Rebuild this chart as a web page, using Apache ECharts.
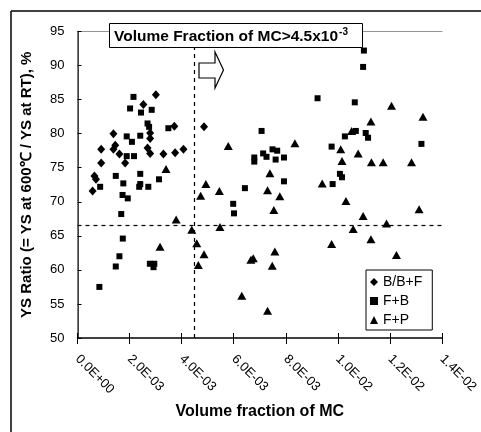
<!DOCTYPE html>
<html>
<head>
<meta charset="utf-8">
<script src="https://cdn.jsdelivr.net/npm/echarts@6/dist/echarts.min.js"></script>
<style>
  html, body { margin: 0; padding: 0; background: #fff; }
  #chart { width: 481px; height: 432px; }
</style>
</head>
<body>
<div id="chart"></div>
<script>
// Tick labels along the volume-fraction axis
const xTickLabels = ['0.0E+00', '2.0E-03', '4.0E-03', '6.0E-03', '8.0E-03', '1.0E-02', '1.2E-02', '1.4E-02'];
const xStep = 0.002;
const xMin = 0, xMax = 0.014;
const yMin = 50, yMax = 95;

// Threshold guides
const mcThreshold = 0.0045;
const ratioThreshold = 66.6;

// B/B+F microstructure: [volume fraction of MC, YS ratio %]
const bainite = [
  [0.00301, 85.7], [0.00253, 84.3], [0.00372, 81.1], [0.00486, 81.0],
  [0.00279, 80.1], [0.00138, 80.0], [0.00279, 79.3], [0.00091, 77.7],
  [0.00145, 78.3], [0.00138, 77.7], [0.00269, 77.9], [0.00279, 77.1],
  [0.00330, 77.0], [0.00375, 77.2], [0.00407, 77.7], [0.00161, 77.0],
  [0.00183, 75.7], [0.00091, 75.7], [0.00065, 73.8], [0.00071, 73.3],
  [0.00058, 71.6]
];

// F+B microstructure
const ferriteBainite = [
  [0.00215, 85.4], [0.00202, 83.7], [0.00244, 83.1], [0.00285, 83.5],
  [0.00269, 81.5], [0.00275, 81.0], [0.00349, 80.8], [0.00189, 79.6],
  [0.00209, 78.8], [0.00241, 79.7], [0.00189, 76.7], [0.00217, 76.7],
  [0.00147, 73.8], [0.00241, 74.1], [0.00313, 73.3], [0.00176, 72.7],
  [0.00241, 72.6], [0.00237, 72.2], [0.00272, 72.2], [0.00087, 72.2],
  [0.00173, 71.0], [0.00193, 70.5], [0.00598, 69.7], [0.00601, 68.3],
  [0.00168, 68.2], [0.00174, 64.6], [0.00161, 62.0], [0.00147, 60.5],
  [0.00278, 60.9], [0.00295, 60.9], [0.00292, 60.4], [0.00084, 57.5],
  [0.01100, 92.2], [0.01097, 89.8], [0.00922, 85.2], [0.01065, 84.6],
  [0.00707, 80.4], [0.01069, 80.4], [0.01027, 79.6], [0.01107, 80.1],
  [0.01116, 79.4], [0.00976, 78.1], [0.01321, 78.5], [0.00713, 77.1],
  [0.00749, 77.7], [0.00767, 77.5], [0.00679, 76.5], [0.00679, 75.9],
  [0.00726, 76.6], [0.00761, 76.2], [0.00793, 76.5], [0.01008, 74.1],
  [0.01016, 73.6], [0.00793, 73.0], [0.00980, 72.6], [0.00643, 72.0]
];

// F+P microstructure
const ferritePearlite = [
  [0.00340, 74.8], [0.00579, 78.2], [0.00493, 72.6], [0.00545, 71.6],
  [0.00473, 70.9], [0.00379, 67.4], [0.00547, 66.3], [0.00439, 65.9],
  [0.00317, 63.4], [0.00458, 63.9], [0.00486, 62.3], [0.00464, 60.7],
  [0.00835, 78.6], [0.01011, 77.7], [0.01078, 77.1], [0.01016, 76.0],
  [0.01129, 75.8], [0.01174, 75.8], [0.01283, 75.8], [0.00739, 74.2],
  [0.00940, 72.7], [0.00730, 71.7], [0.00777, 70.8], [0.01031, 70.1],
  [0.00754, 68.8], [0.01097, 67.9], [0.01312, 68.9], [0.01187, 66.8],
  [0.01059, 66.0], [0.01127, 64.5], [0.00976, 63.8], [0.01206, 84.1],
  [0.01327, 82.5], [0.01127, 81.8], [0.01053, 80.4], [0.01225, 62.2],
  [0.00758, 62.7], [0.00666, 61.5], [0.00675, 61.7], [0.00748, 60.6],
  [0.00631, 56.2], [0.00730, 54.0]
];

const FONT = '"Liberation Sans", Arial, sans-serif';

const chart = echarts.init(document.getElementById('chart'), null, { renderer: 'canvas' });

const hiddenAxisParts = {
  axisLabel: { show: false },
  axisTick: { show: false },
  splitLine: { show: false }
};

chart.setOption({
  animation: false,
  backgroundColor: '#fff',
  textStyle: { fontFamily: FONT, color: '#000' },
  grid: { left: 77.5, right: 39, top: 31.5, bottom: 94 },
  legend: {
    orient: 'vertical',
    left: 366,
    top: 270,
    backgroundColor: '#fff',
    borderColor: '#000',
    borderWidth: 1,
    padding: [5, 10, 3, 4],
    itemGap: 5,
    itemWidth: 8,
    itemHeight: 8,
    textStyle: { fontFamily: FONT, fontSize: 14, color: '#000' },
    data: [
      { name: 'B/B+F', icon: 'diamond' },
      { name: 'F+B', icon: 'rect' },
      { name: 'F+P', icon: 'triangle' }
    ]
  },
  xAxis: [
    {
      type: 'value',
      min: xMin,
      max: xMax,
      interval: xStep,
      name: 'Volume fraction of MC',
      nameLocation: 'middle',
      nameGap: 66,
      nameTextStyle: { fontFamily: FONT, fontSize: 16, fontWeight: 'bold', color: '#000' },
      axisLine: { lineStyle: { color: '#000', width: 1.5 } },
      axisTick: { show: true, inside: false, length: 6, lineStyle: { color: '#000', width: 1 } },
      axisLabel: {
        rotate: -45,
        margin: 19,
        fontFamily: FONT,
        fontSize: 13,
        color: '#000',
        showMaxLabel: true,
        formatter: (v) => xTickLabels[Math.round(v / xStep)]
      },
      splitLine: { show: false }
    },
    {
      // inward half of the crossing ticks
      type: 'value', min: xMin, max: xMax, interval: xStep, position: 'bottom',
      axisLine: { show: false },
      axisTick: { show: true, inside: true, length: 5, lineStyle: { color: '#000', width: 1 } },
      axisLabel: { show: false },
      splitLine: { show: false }
    },
    {
      // dotted top border of the plot area
      type: 'value', min: xMin, max: xMax, position: 'top',
      axisLine: { lineStyle: { color: '#888', type: [1, 1], width: 1 } },
      ...hiddenAxisParts
    }
  ],
  yAxis: [
    {
      type: 'value',
      min: yMin,
      max: yMax,
      interval: 5,
      name: 'YS Ratio (= YS at 600℃ / YS at RT), %',
      nameLocation: 'middle',
      nameRotate: 90,
      nameGap: 43,
      nameTextStyle: { fontFamily: FONT, fontSize: 15, fontWeight: 'bold', color: '#000' },
      axisLine: { show: true, lineStyle: { color: '#000', width: 1.5 } },
      axisTick: { show: true, inside: true, length: 4, lineStyle: { color: '#000' } },
      axisLabel: { margin: 13, fontFamily: FONT, fontSize: 13, color: '#000' },
      splitLine: { show: false }
    },
    {
      // dotted right border of the plot area
      type: 'value', min: yMin, max: yMax, position: 'right',
      axisLine: { show: true, lineStyle: { color: '#888', type: [1, 1], width: 1 } },
      ...hiddenAxisParts
    }
  ],
  series: [
    {
      name: 'B/B+F',
      type: 'scatter',
      symbol: 'diamond',
      symbolSize: [8, 9],
      itemStyle: { color: '#000', opacity: 1 },
      data: bainite,
      z: 3,
      markLine: {
        silent: true,
        symbol: 'none',
        label: { show: false },
        lineStyle: { color: '#000', type: [4, 4], width: 1.2 },
        data: [
          [{ coord: [mcThreshold, yMin] }, { coord: [mcThreshold, yMax] }],
          [{ coord: [xMin, ratioThreshold] }, { coord: [xMax, ratioThreshold] }]
        ],
        z: 2
      }
    },
    {
      name: 'F+B',
      type: 'scatter',
      symbol: 'rect',
      symbolSize: 6,
      itemStyle: { color: '#000', opacity: 1 },
      data: ferriteBainite,
      z: 3
    },
    {
      name: 'F+P',
      type: 'scatter',
      symbol: 'triangle',
      symbolSize: [9, 8],
      itemStyle: { color: '#000', opacity: 1 },
      data: ferritePearlite,
      z: 3
    }
  ],
  graphic: [
    // outer frame edges
    { type: 'line', shape: { x1: 11, y1: 11, x2: 481, y2: 11 }, style: { stroke: '#000', lineWidth: 1.5 }, z: 10 },
    { type: 'line', shape: { x1: 11, y1: 11, x2: 11, y2: 432 }, style: { stroke: '#000', lineWidth: 1.5 }, z: 10 },
    // threshold note
    {
      type: 'rect',
      shape: { x: 109.5, y: 23.5, width: 253, height: 24 },
      style: { fill: '#fff', stroke: '#000', lineWidth: 1 },
      z: 20
    },
    {
      type: 'text',
      left: 114,
      top: 27,
      z: 21,
      style: {
        text: '{m|Volume Fraction of MC>4.5x10}{s|-3}',
        rich: {
          m: { fontFamily: FONT, fontSize: 15.5, fontWeight: 'bold', fill: '#000', lineHeight: 18, verticalAlign: 'bottom' },
          s: { fontFamily: FONT, fontSize: 10, fontWeight: 'bold', fill: '#000', verticalAlign: 'top', padding: [0, 0, 7, 1] }
        }
      }
    },
    // arrow pointing towards the high-MC side
    {
      type: 'polygon',
      shape: { points: [[199, 63], [215, 63], [215, 52], [223.5, 70], [215, 88], [215, 78], [199, 78]] },
      style: { fill: '#fff', stroke: '#000', lineWidth: 1.2 },
      z: 20
    }
  ]
});
</script>
</body>
</html>
